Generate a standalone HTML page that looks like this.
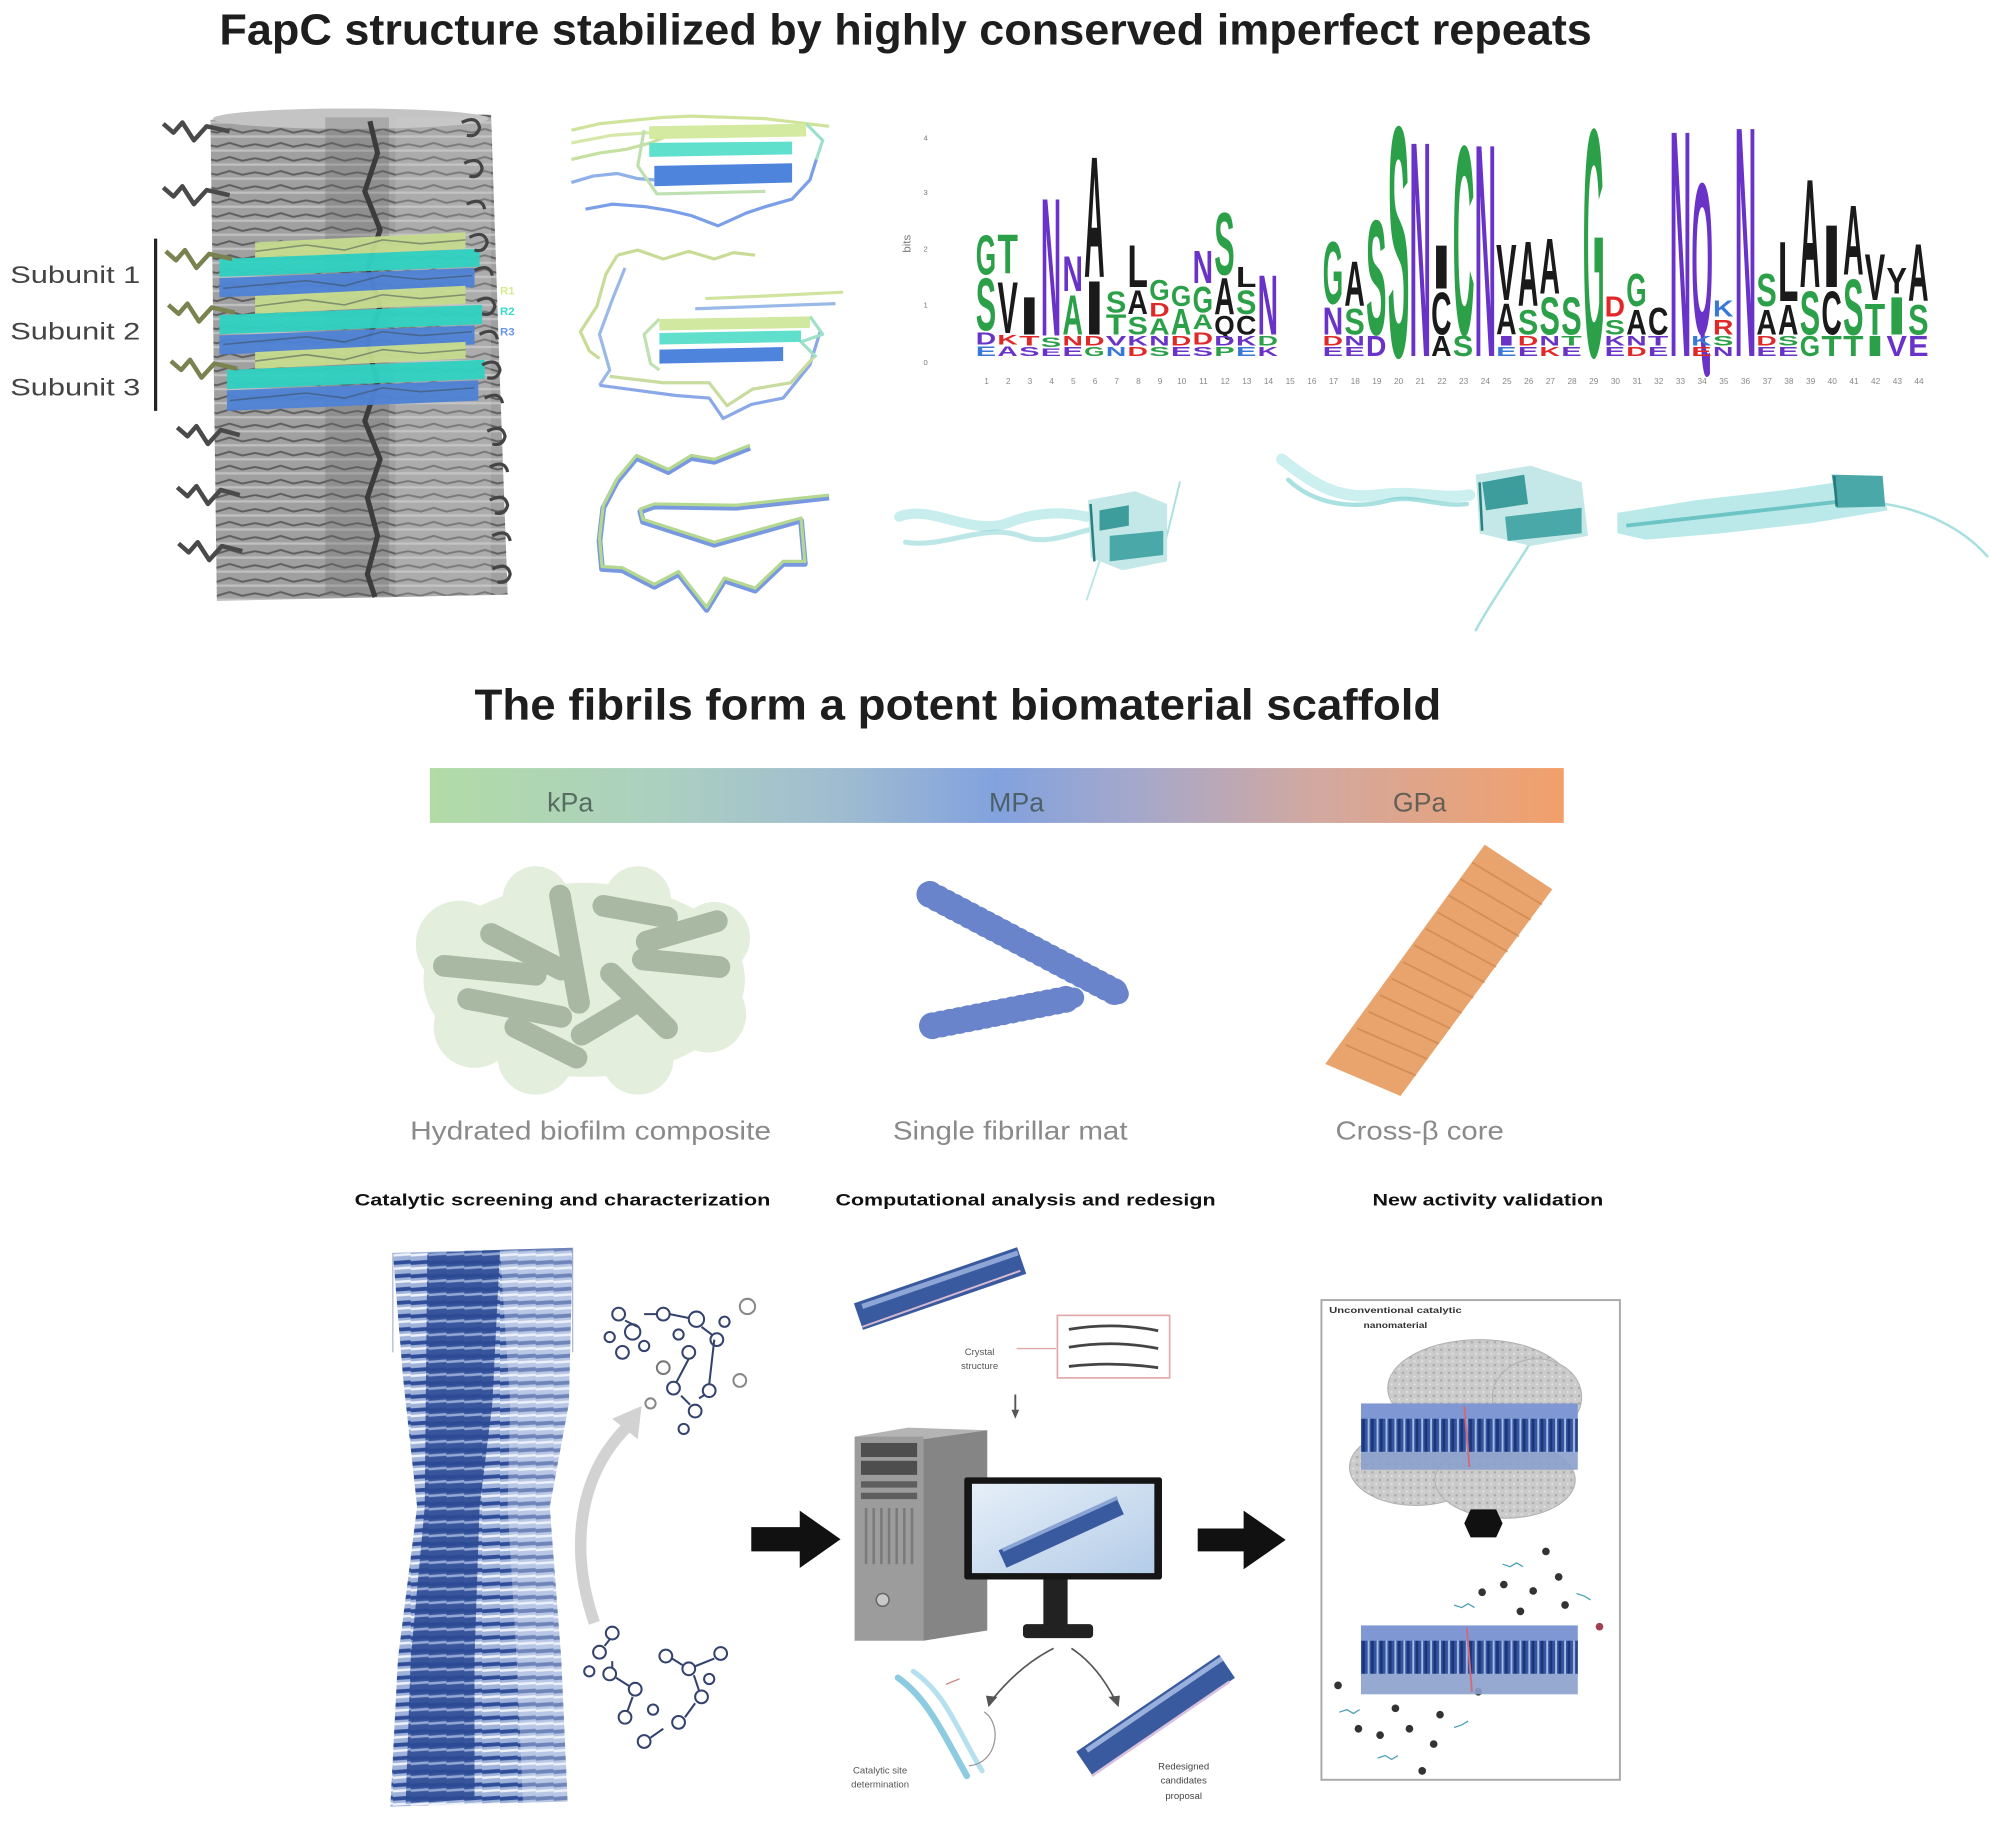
<!DOCTYPE html>
<html><head><meta charset="utf-8">
<style>
html,body{margin:0;padding:0;background:#fff;}
svg{display:block;}
text{font-family:"Liberation Sans",Arial,sans-serif;}
.g{fill:#2ca048}.p{fill:#6a33c8}.k{fill:#1a1a1a}.r{fill:#e02828}.b{fill:#3a78d8}
</style></head><body>
<svg width="2000" height="1827" viewBox="0 0 1568 1432" preserveAspectRatio="none" xmlns="http://www.w3.org/2000/svg">
<defs>
 <pattern id="strands" width="40" height="11" patternUnits="userSpaceOnUse">
   <rect width="40" height="11" fill="#a0a0a0"/>
   <path d="M0 3 L10 5 L20 2 L30 5 L40 3" stroke="#5e5e5e" stroke-width="1.5" fill="none"/>
   <path d="M0 8 L40 8" stroke="#c0c0c0" stroke-width="1.8"/>
 </pattern>
 <pattern id="tw" width="14" height="10.5" patternUnits="userSpaceOnUse">
   <rect width="14" height="10.5" fill="#9fb2da"/>
   <path d="M0 3 L14 2" stroke="#2f4d98" stroke-width="3"/>
   <path d="M0 7.5 L14 6.5" stroke="#eef2fa" stroke-width="2"/>
 </pattern>
 <pattern id="twd" width="14" height="10.5" patternUnits="userSpaceOnUse">
   <rect width="14" height="10.5" fill="#2d4b95"/>
   <path d="M0 7 L14 6" stroke="#8aa0d2" stroke-width="2"/>
 </pattern>
 <pattern id="fibV" width="7" height="50" patternUnits="userSpaceOnUse">
   <rect width="7" height="50" fill="#34559f"/>
   <path d="M2 0 L2 50" stroke="#a8bce4" stroke-width="1.5"/>
   <path d="M5 0 L5 50" stroke="#1c3578" stroke-width="2"/>
 </pattern>
 <pattern id="dots" width="6" height="6" patternUnits="userSpaceOnUse">
   <rect width="6" height="6" fill="#cbcbcb"/>
   <circle cx="2" cy="2" r="1" fill="#aaa"/>
   <circle cx="5" cy="5" r="0.8" fill="#e4e4e4"/>
 </pattern>
 <linearGradient id="bar" x1="0" x2="1" y1="0" y2="0">
   <stop offset="0" stop-color="#b2dba6"/>
   <stop offset="0.2" stop-color="#acd0c0"/>
   <stop offset="0.36" stop-color="#a0bcd0"/>
   <stop offset="0.5" stop-color="#82a2de"/>
   <stop offset="0.62" stop-color="#a4a8cc"/>
   <stop offset="0.78" stop-color="#d2a8a0"/>
   <stop offset="1" stop-color="#f2a06a"/>
 </linearGradient>
 <linearGradient id="screen" x1="0" x2="1" y1="0" y2="1">
   <stop offset="0" stop-color="#e6eff8"/>
   <stop offset="1" stop-color="#b4cce8"/>
 </linearGradient>
</defs>

<!-- ===== Title 1 ===== -->
<text x="172" y="35" font-size="34" font-weight="bold" fill="#1e1e1e" textLength="1076" lengthAdjust="spacingAndGlyphs">FapC structure stabilized by highly conserved imperfect repeats</text>

<!-- ===== Left fibril stack ===== -->
<polygon points="165,94 250,86 385,90 392,300 398,466 170,471" fill="url(#strands)"/>
<ellipse cx="275" cy="93" rx="108" ry="8" fill="#c4c4c4"/>
<rect x="255" y="92" width="50" height="375" fill="#6a6a6a" opacity="0.3"/>
<rect x="310" y="92" width="75" height="375" fill="#d0d0d0" opacity="0.25"/>
<polyline points="290,95 296,120 286,150 298,180 288,210 298,240 288,270 296,300 286,330 298,360 288,390 296,420 288,450 294,468" stroke="#3c3c3c" stroke-width="4" fill="none"/>
<!-- colored bands -->
<g opacity="0.95">
<polygon points="200,190 365,182 365,195 200,203" fill="#c6dc8e"/>
<polygon points="172,203 376,195 376,209 172,217" fill="#2fd2c2"/>
<polygon points="172,218 372,210 372,225 172,233" fill="#4f82d6"/>
<polygon points="200,232 365,224 365,238 200,246" fill="#c6dc8e"/>
<polygon points="172,247 378,239 378,254 172,262" fill="#2fd2c2"/>
<polygon points="172,263 372,255 372,270 172,278" fill="#4f82d6"/>
<polygon points="200,276 365,268 365,281 200,289" fill="#c6dc8e"/>
<polygon points="178,290 380,282 380,297 178,305" fill="#2fd2c2"/>
<polygon points="178,306 375,298 375,314 178,322" fill="#4f82d6"/>
</g>
<g stroke="#3a4a50" stroke-width="1.2" fill="none" opacity="0.5">
<polyline points="200,197 240,192 270,196 300,188 330,191 365,188"/>
<polyline points="200,240 240,235 270,239 300,231 330,234 365,231"/>
<polyline points="200,283 240,278 270,282 300,274 330,277 365,274"/>
<polyline points="175,226 240,220 270,224 300,216 330,219 370,216"/>
<polyline points="175,270 240,264 270,268 300,260 330,263 370,260"/>
<polyline points="180,314 240,308 270,312 300,304 330,307 372,304"/>
</g>
<!-- left tails -->
<g stroke="#4a4a4a" stroke-width="3.5" fill="none" stroke-linejoin="round">
<polyline points="128,97 136,104 143,96 152,110 162,99 180,103"/>
<polyline points="128,147 136,154 143,146 152,160 162,149 180,153"/>
<polyline points="130,197 138,204 145,196 154,210 164,199 182,203" stroke="#7a8250"/>
<polyline points="132,239 140,246 147,238 156,252 166,241 184,245" stroke="#7a8250"/>
<polyline points="134,283 142,290 149,282 158,296 168,285 186,289" stroke="#7a8250"/>
<polyline points="139,335 147,342 154,334 163,348 173,337 188,341"/>
<polyline points="139,382 147,389 154,381 163,395 173,384 188,388"/>
<polyline points="140,426 148,433 155,425 164,439 174,428 190,432"/>
</g>
<!-- right hooks -->
<g stroke="#444" stroke-width="2.5" fill="none">
<path d="M362,96 q12,-6 14,4 q-2,8 -10,6"/>
<path d="M364,128 q12,-6 14,4 q-2,8 -10,6"/>
<path d="M366,160 q12,-6 14,4"/>
<path d="M368,186 q12,-6 14,4 q-2,8 -10,6"/>
<path d="M372,212 q12,-6 14,4"/>
<path d="M374,236 q12,-6 14,4 q-2,8 -10,6"/>
<path d="M376,262 q12,-6 14,4"/>
<path d="M378,286 q12,-6 14,4 q-2,8 -10,6"/>
<path d="M380,312 q12,-6 14,4"/>
<path d="M382,338 q12,-6 14,4 q-2,8 -10,6"/>
<path d="M384,366 q12,-6 14,4"/>
<path d="M384,392 q12,-6 14,4 q-2,8 -10,6"/>
<path d="M386,420 q12,-6 14,4"/>
<path d="M386,446 q12,-6 14,4 q-2,8 -10,6"/>
</g>
<!-- Subunit labels -->
<g font-size="19" fill="#444">
<text x="8" y="222" textLength="102" lengthAdjust="spacingAndGlyphs">Subunit 1</text>
<text x="8" y="266" textLength="102" lengthAdjust="spacingAndGlyphs">Subunit 2</text>
<text x="8" y="310" textLength="102" lengthAdjust="spacingAndGlyphs">Subunit 3</text>
</g>
<line x1="122" y1="187" x2="122" y2="322" stroke="#222" stroke-width="2.5"/>
<g font-size="9" font-weight="bold">
<text x="392" y="231" fill="#d6ea90">R1</text>
<text x="392" y="247" fill="#3cdccc">R2</text>
<text x="392" y="263" fill="#6a96ea">R3</text>
</g>

<!-- ===== Middle structures ===== -->
<!-- A -->
<g fill="none" stroke-width="2.5" stroke-linejoin="round">
<polyline points="448,102 470,97 499,94 520,92 542,91 600,93 650,99" stroke="#cfe49a"/>
<polyline points="448,112 480,106 510,104" stroke="#d6e8a8"/>
<polyline points="448,125 470,120 491,117 510,112 520,108" stroke="#c6e0a0"/>
<polyline points="448,143 465,138 484,136 500,140 513,141" stroke="#8fb0e8"/>
<polyline points="459,164 480,160 506,162 525,165 542,169 563,177 585,167 600,162 621,156 635,141 640,125" stroke="#7a9fe8"/>
<polyline points="632,97 645,110 640,125" stroke="#9ee0c8"/>
<polyline points="505,102 500,130 515,152 600,150" stroke="#bfe0b0"/>
</g>
<polygon points="509,99 632,97 632,107 509,109" fill="#d4eaa0"/>
<polygon points="509,112 621,111 621,121 509,123" fill="#5ee0cc"/>
<polygon points="513,130 621,128 621,143 513,146" fill="#4e84dc"/>
<!-- B -->
<g fill="none" stroke-width="2.5" stroke-linejoin="round">
<polyline points="484,200 500,196 520,203 540,197 560,203 575,198 592,200" stroke="#c8dc98"/>
<polyline points="484,200 475,215 468,240 455,260 462,275 470,281" stroke="#c8dc98"/>
<polyline points="490,210 480,235 470,262 478,290 470,302" stroke="#9ab8e8"/>
<polyline points="470,302 500,306 530,310 556,312 567,328 589,317 614,312 635,286 643,260" stroke="#8aa8e8"/>
<polyline points="478,295 520,300 556,300 570,318 590,305 620,300 638,280" stroke="#c8dca0"/>
<polyline points="553,234 600,232 661,229" stroke="#d0e4a0"/>
<polyline points="545,242 600,240 655,238" stroke="#9ab8e8"/>
<polyline points="517,250 505,262 510,285 517,290" stroke="#bfe0b0"/>
<polyline points="635,248 645,262 628,268 640,280" stroke="#9ee0c8"/>
</g>
<polygon points="517,250 635,248 635,257 517,259" fill="#d0e8a0"/>
<polygon points="517,261 628,259 628,268 517,270" fill="#60e0cc"/>
<polygon points="517,274 614,272 614,283 517,285" fill="#4e84dc"/>
<!-- C -->
<polyline points="588,351 560,362 542,359 524,370 499,359 484,377 473,398 470,424 472,446 488,447 513,460 532,450 554,478 568,455 592,463 614,442 631,442 628,408 560,427 504,409 502,401 513,397 577,398 650,390" fill="none" stroke="#7898e0" stroke-width="4.5" stroke-linejoin="round"/>
<polyline points="588,349 560,360 542,357 524,368 499,357 484,375 473,396 470,422 472,444 488,445 513,458 532,448 554,476 568,453 592,461 614,440 631,440 628,406 560,425 504,407 502,399 513,395 577,396 650,388" fill="none" stroke="#b4d890" stroke-width="2.5" stroke-linejoin="round"/>

<!-- ===== Sequence logo ===== -->
<g font-size="6" fill="#777">
<text x="724" y="110">4</text><text x="724" y="153">3</text><text x="724" y="197">2</text><text x="724" y="241">1</text><text x="724" y="286">0</text>
</g>
<text x="0" y="0" font-size="9" fill="#777" transform="translate(714,198) rotate(-90)">bits</text>
<g font-weight="bold">
<!-- col1 -->
<text x="765" y="215" font-size="44.7" class="g" textLength="16" lengthAdjust="spacingAndGlyphs">G</text>
<text x="765" y="259" font-size="58.7" class="g" textLength="16" lengthAdjust="spacingAndGlyphs">S</text>
<text x="765" y="270" font-size="14" class="p" textLength="16" lengthAdjust="spacingAndGlyphs">D</text>
<text x="765" y="279" font-size="11.2" class="b" textLength="16" lengthAdjust="spacingAndGlyphs">E</text>
<!-- col2 -->
<text x="782" y="214" font-size="43.3" class="g" textLength="16" lengthAdjust="spacingAndGlyphs">T</text>
<text x="782" y="261" font-size="57.3" class="k" textLength="16" lengthAdjust="spacingAndGlyphs">V</text>
<text x="782" y="270" font-size="11.2" class="r" textLength="16" lengthAdjust="spacingAndGlyphs">K</text>
<text x="782" y="279" font-size="11.2" class="p" textLength="16" lengthAdjust="spacingAndGlyphs">A</text>
<!-- col3 -->
<text x="799" y="262" font-size="41.9" class="k" textLength="16" lengthAdjust="spacingAndGlyphs">I</text>
<text x="799" y="271" font-size="11.2" class="r" textLength="16" lengthAdjust="spacingAndGlyphs">T</text>
<text x="799" y="279" font-size="9.8" class="p" textLength="16" lengthAdjust="spacingAndGlyphs">S</text>
<!-- col4 -->
<text x="816" y="263" font-size="155" class="p" textLength="16" lengthAdjust="spacingAndGlyphs">N</text>
<text x="816" y="272" font-size="11.2" class="g" textLength="16" lengthAdjust="spacingAndGlyphs">S</text>
<text x="816" y="279" font-size="8.4" class="p" textLength="16" lengthAdjust="spacingAndGlyphs">E</text>
<!-- col5 -->
<text x="833" y="228" font-size="39.1" class="p" textLength="16" lengthAdjust="spacingAndGlyphs">N</text>
<text x="833" y="262" font-size="44.7" class="g" textLength="16" lengthAdjust="spacingAndGlyphs">A</text>
<text x="833" y="271" font-size="11.2" class="r" textLength="16" lengthAdjust="spacingAndGlyphs">N</text>
<text x="833" y="279" font-size="9.8" class="p" textLength="16" lengthAdjust="spacingAndGlyphs">E</text>
<!-- col6 -->
<text x="850" y="217" font-size="135.5" class="k" textLength="16" lengthAdjust="spacingAndGlyphs">A</text>
<text x="850" y="262" font-size="60" class="k" textLength="16" lengthAdjust="spacingAndGlyphs">I</text>
<text x="850" y="271" font-size="11.2" class="r" textLength="16" lengthAdjust="spacingAndGlyphs">D</text>
<text x="850" y="279" font-size="9.8" class="g" textLength="16" lengthAdjust="spacingAndGlyphs">G</text>
<!-- col7 -->
<text x="867" y="245" font-size="23.7" class="g" textLength="16" lengthAdjust="spacingAndGlyphs">S</text>
<text x="867" y="262" font-size="22.3" class="g" textLength="16" lengthAdjust="spacingAndGlyphs">T</text>
<text x="867" y="271" font-size="11.2" class="p" textLength="16" lengthAdjust="spacingAndGlyphs">V</text>
<text x="867" y="279" font-size="9.8" class="b" textLength="16" lengthAdjust="spacingAndGlyphs">N</text>
<!-- col8 -->
<text x="884" y="225" font-size="47.5" class="k" textLength="16" lengthAdjust="spacingAndGlyphs">L</text>
<text x="884" y="246" font-size="26.5" class="k" textLength="16" lengthAdjust="spacingAndGlyphs">A</text>
<text x="884" y="262" font-size="19.6" class="g" textLength="16" lengthAdjust="spacingAndGlyphs">S</text>
<text x="884" y="271" font-size="11.2" class="p" textLength="16" lengthAdjust="spacingAndGlyphs">K</text>
<text x="884" y="279" font-size="9.8" class="r" textLength="16" lengthAdjust="spacingAndGlyphs">D</text>
<!-- col9 -->
<text x="901" y="235" font-size="22.3" class="g" textLength="16" lengthAdjust="spacingAndGlyphs">G</text>
<text x="901" y="248" font-size="15.4" class="r" textLength="16" lengthAdjust="spacingAndGlyphs">D</text>
<text x="901" y="262" font-size="18.2" class="g" textLength="16" lengthAdjust="spacingAndGlyphs">A</text>
<text x="901" y="271" font-size="11.2" class="p" textLength="16" lengthAdjust="spacingAndGlyphs">N</text>
<text x="901" y="279" font-size="9.8" class="g" textLength="16" lengthAdjust="spacingAndGlyphs">S</text>
<!-- col10 -->
<text x="918" y="240" font-size="22.3" class="g" textLength="16" lengthAdjust="spacingAndGlyphs">G</text>
<text x="918" y="262" font-size="29.3" class="g" textLength="16" lengthAdjust="spacingAndGlyphs">A</text>
<text x="918" y="271" font-size="11.2" class="r" textLength="16" lengthAdjust="spacingAndGlyphs">D</text>
<text x="918" y="279" font-size="9.8" class="p" textLength="16" lengthAdjust="spacingAndGlyphs">E</text>
<!-- col11 -->
<text x="935" y="222" font-size="36.3" class="p" textLength="16" lengthAdjust="spacingAndGlyphs">N</text>
<text x="935" y="245" font-size="29.3" class="g" textLength="16" lengthAdjust="spacingAndGlyphs">G</text>
<text x="935" y="258" font-size="16.8" class="g" textLength="16" lengthAdjust="spacingAndGlyphs">A</text>
<text x="935" y="270" font-size="14" class="r" textLength="16" lengthAdjust="spacingAndGlyphs">D</text>
<text x="935" y="279" font-size="9.8" class="p" textLength="16" lengthAdjust="spacingAndGlyphs">S</text>
<!-- col12 -->
<text x="952" y="215" font-size="69.8" class="g" textLength="16" lengthAdjust="spacingAndGlyphs">S</text>
<text x="952" y="246" font-size="40.5" class="k" textLength="16" lengthAdjust="spacingAndGlyphs">A</text>
<text x="952" y="262" font-size="21" class="k" textLength="16" lengthAdjust="spacingAndGlyphs">Q</text>
<text x="952" y="271" font-size="11.2" class="p" textLength="16" lengthAdjust="spacingAndGlyphs">D</text>
<text x="952" y="279" font-size="9.8" class="g" textLength="16" lengthAdjust="spacingAndGlyphs">P</text>
<!-- col13 -->
<text x="969" y="225" font-size="22.3" class="k" textLength="16" lengthAdjust="spacingAndGlyphs">L</text>
<text x="969" y="246" font-size="26.5" class="g" textLength="16" lengthAdjust="spacingAndGlyphs">S</text>
<text x="969" y="262" font-size="21" class="k" textLength="16" lengthAdjust="spacingAndGlyphs">C</text>
<text x="969" y="271" font-size="11.2" class="p" textLength="16" lengthAdjust="spacingAndGlyphs">K</text>
<text x="969" y="279" font-size="9.8" class="b" textLength="16" lengthAdjust="spacingAndGlyphs">E</text>
<!-- col14 -->
<text x="986" y="262" font-size="67" class="p" textLength="16" lengthAdjust="spacingAndGlyphs">N</text>
<text x="986" y="271" font-size="11.2" class="g" textLength="16" lengthAdjust="spacingAndGlyphs">D</text>
<text x="986" y="279" font-size="9.8" class="p" textLength="16" lengthAdjust="spacingAndGlyphs">K</text>
<!-- col17 -->
<text x="1037" y="238" font-size="69.8" class="g" textLength="16" lengthAdjust="spacingAndGlyphs">G</text>
<text x="1037" y="262" font-size="30.7" class="p" textLength="16" lengthAdjust="spacingAndGlyphs">N</text>
<text x="1037" y="271" font-size="11.2" class="r" textLength="16" lengthAdjust="spacingAndGlyphs">D</text>
<text x="1037" y="279" font-size="9.8" class="p" textLength="16" lengthAdjust="spacingAndGlyphs">E</text>
<!-- col18 -->
<text x="1054" y="240" font-size="50.3" class="k" textLength="16" lengthAdjust="spacingAndGlyphs">A</text>
<text x="1054" y="262" font-size="29.3" class="g" textLength="16" lengthAdjust="spacingAndGlyphs">S</text>
<text x="1054" y="271" font-size="11.2" class="p" textLength="16" lengthAdjust="spacingAndGlyphs">N</text>
<text x="1054" y="279" font-size="9.8" class="p" textLength="16" lengthAdjust="spacingAndGlyphs">E</text>
<!-- col19 -->
<text x="1071" y="262" font-size="128.5" class="g" textLength="16" lengthAdjust="spacingAndGlyphs">S</text>
<text x="1071" y="279" font-size="22.3" class="p" textLength="16" lengthAdjust="spacingAndGlyphs">D</text>
<!-- col20 -->
<text x="1088" y="279" font-size="258.4" class="g" textLength="17" lengthAdjust="spacingAndGlyphs">S</text>
<!-- col21 -->
<text x="1105" y="279" font-size="241.6" class="p" textLength="17" lengthAdjust="spacingAndGlyphs">N</text>
<!-- col22 -->
<text x="1122" y="226" font-size="48.9" class="k" textLength="16" lengthAdjust="spacingAndGlyphs">I</text>
<text x="1122" y="262" font-size="47.5" class="k" textLength="16" lengthAdjust="spacingAndGlyphs">C</text>
<text x="1122" y="279" font-size="22.3" class="k" textLength="16" lengthAdjust="spacingAndGlyphs">A</text>
<!-- col23 -->
<text x="1139" y="262" font-size="212.3" class="g" textLength="17" lengthAdjust="spacingAndGlyphs">C</text>
<text x="1139" y="279" font-size="22.3" class="g" textLength="16" lengthAdjust="spacingAndGlyphs">S</text>
<!-- col24 -->
<text x="1156" y="279" font-size="238.8" class="p" textLength="17" lengthAdjust="spacingAndGlyphs">N</text>
<!-- col25 -->
<text x="1173" y="235" font-size="62.8" class="k" textLength="16" lengthAdjust="spacingAndGlyphs">V</text>
<text x="1173" y="262" font-size="34.9" class="k" textLength="16" lengthAdjust="spacingAndGlyphs">A</text>
<text x="1173" y="271" font-size="11.2" class="p" textLength="16" lengthAdjust="spacingAndGlyphs">I</text>
<text x="1173" y="279" font-size="9.8" class="b" textLength="16" lengthAdjust="spacingAndGlyphs">E</text>
<!-- col26 -->
<text x="1190" y="240" font-size="72.6" class="k" textLength="16" lengthAdjust="spacingAndGlyphs">A</text>
<text x="1190" y="262" font-size="27.9" class="g" textLength="16" lengthAdjust="spacingAndGlyphs">S</text>
<text x="1190" y="271" font-size="11.2" class="r" textLength="16" lengthAdjust="spacingAndGlyphs">D</text>
<text x="1190" y="279" font-size="9.8" class="p" textLength="16" lengthAdjust="spacingAndGlyphs">E</text>
<!-- col27 -->
<text x="1207" y="230" font-size="61.5" class="k" textLength="16" lengthAdjust="spacingAndGlyphs">A</text>
<text x="1207" y="262" font-size="41.9" class="g" textLength="16" lengthAdjust="spacingAndGlyphs">S</text>
<text x="1207" y="271" font-size="11.2" class="p" textLength="16" lengthAdjust="spacingAndGlyphs">N</text>
<text x="1207" y="279" font-size="9.8" class="r" textLength="16" lengthAdjust="spacingAndGlyphs">K</text>
<!-- col28 -->
<text x="1224" y="262" font-size="41.9" class="g" textLength="16" lengthAdjust="spacingAndGlyphs">S</text>
<text x="1224" y="271" font-size="11.2" class="g" textLength="16" lengthAdjust="spacingAndGlyphs">T</text>
<text x="1224" y="279" font-size="9.8" class="p" textLength="16" lengthAdjust="spacingAndGlyphs">E</text>
<!-- col29 -->
<text x="1241" y="279" font-size="255.6" class="g" textLength="17" lengthAdjust="spacingAndGlyphs">G</text>
<!-- col30 -->
<text x="1258" y="248" font-size="22.3" class="r" textLength="16" lengthAdjust="spacingAndGlyphs">D</text>
<text x="1258" y="262" font-size="16.8" class="g" textLength="16" lengthAdjust="spacingAndGlyphs">S</text>
<text x="1258" y="271" font-size="11.2" class="p" textLength="16" lengthAdjust="spacingAndGlyphs">K</text>
<text x="1258" y="279" font-size="9.8" class="p" textLength="16" lengthAdjust="spacingAndGlyphs">E</text>
<!-- col31 -->
<text x="1275" y="240" font-size="36.3" class="g" textLength="16" lengthAdjust="spacingAndGlyphs">G</text>
<text x="1275" y="262" font-size="27.9" class="k" textLength="16" lengthAdjust="spacingAndGlyphs">A</text>
<text x="1275" y="271" font-size="11.2" class="p" textLength="16" lengthAdjust="spacingAndGlyphs">N</text>
<text x="1275" y="279" font-size="9.8" class="r" textLength="16" lengthAdjust="spacingAndGlyphs">D</text>
<!-- col32 -->
<text x="1292" y="262" font-size="30.7" class="k" textLength="16" lengthAdjust="spacingAndGlyphs">C</text>
<text x="1292" y="271" font-size="11.2" class="p" textLength="16" lengthAdjust="spacingAndGlyphs">T</text>
<text x="1292" y="279" font-size="9.8" class="p" textLength="16" lengthAdjust="spacingAndGlyphs">E</text>
<!-- col33 -->
<text x="1309" y="279" font-size="254.2" class="p" textLength="17" lengthAdjust="spacingAndGlyphs">N</text>
<!-- col34 -->
<text x="1326" y="262" font-size="170.4" class="p" textLength="17" lengthAdjust="spacingAndGlyphs">Q</text>
<text x="1326" y="271" font-size="11.2" class="b" textLength="16" lengthAdjust="spacingAndGlyphs">K</text>
<text x="1326" y="279" font-size="9.8" class="r" textLength="16" lengthAdjust="spacingAndGlyphs">E</text>
<!-- col35 -->
<text x="1343" y="248" font-size="18.2" class="b" textLength="16" lengthAdjust="spacingAndGlyphs">K</text>
<text x="1343" y="262" font-size="16.8" class="r" textLength="16" lengthAdjust="spacingAndGlyphs">R</text>
<text x="1343" y="271" font-size="11.2" class="g" textLength="16" lengthAdjust="spacingAndGlyphs">S</text>
<text x="1343" y="279" font-size="9.8" class="p" textLength="16" lengthAdjust="spacingAndGlyphs">N</text>
<!-- col36 -->
<text x="1360" y="279" font-size="258.4" class="p" textLength="17" lengthAdjust="spacingAndGlyphs">N</text>
<!-- col37 -->
<text x="1377" y="240" font-size="36.3" class="g" textLength="16" lengthAdjust="spacingAndGlyphs">S</text>
<text x="1377" y="262" font-size="27.9" class="k" textLength="16" lengthAdjust="spacingAndGlyphs">A</text>
<text x="1377" y="271" font-size="11.2" class="r" textLength="16" lengthAdjust="spacingAndGlyphs">D</text>
<text x="1377" y="279" font-size="9.8" class="p" textLength="16" lengthAdjust="spacingAndGlyphs">E</text>
<!-- col38 -->
<text x="1394" y="236" font-size="67" class="k" textLength="16" lengthAdjust="spacingAndGlyphs">L</text>
<text x="1394" y="262" font-size="33.5" class="k" textLength="16" lengthAdjust="spacingAndGlyphs">A</text>
<text x="1394" y="271" font-size="11.2" class="g" textLength="16" lengthAdjust="spacingAndGlyphs">S</text>
<text x="1394" y="279" font-size="9.8" class="p" textLength="16" lengthAdjust="spacingAndGlyphs">E</text>
<!-- col39 -->
<text x="1411" y="225" font-size="121.5" class="k" textLength="16" lengthAdjust="spacingAndGlyphs">A</text>
<text x="1411" y="262" font-size="48.9" class="g" textLength="16" lengthAdjust="spacingAndGlyphs">S</text>
<text x="1411" y="279" font-size="22.3" class="g" textLength="16" lengthAdjust="spacingAndGlyphs">G</text>
<!-- col40 -->
<text x="1428" y="225" font-size="69.8" class="k" textLength="16" lengthAdjust="spacingAndGlyphs">I</text>
<text x="1428" y="262" font-size="48.9" class="k" textLength="16" lengthAdjust="spacingAndGlyphs">C</text>
<text x="1428" y="279" font-size="22.3" class="g" textLength="16" lengthAdjust="spacingAndGlyphs">T</text>
<!-- col41 -->
<text x="1445" y="215" font-size="78.2" class="k" textLength="16" lengthAdjust="spacingAndGlyphs">A</text>
<text x="1445" y="262" font-size="62.8" class="g" textLength="16" lengthAdjust="spacingAndGlyphs">S</text>
<text x="1445" y="279" font-size="22.3" class="g" textLength="16" lengthAdjust="spacingAndGlyphs">T</text>
<!-- col42 -->
<text x="1462" y="235" font-size="51.7" class="k" textLength="16" lengthAdjust="spacingAndGlyphs">V</text>
<text x="1462" y="262" font-size="34.9" class="g" textLength="16" lengthAdjust="spacingAndGlyphs">T</text>
<text x="1462" y="279" font-size="22.3" class="g" textLength="16" lengthAdjust="spacingAndGlyphs">I</text>
<!-- col43 -->
<text x="1479" y="230" font-size="29.3" class="k" textLength="16" lengthAdjust="spacingAndGlyphs">Y</text>
<text x="1479" y="262" font-size="41.9" class="g" textLength="16" lengthAdjust="spacingAndGlyphs">I</text>
<text x="1479" y="279" font-size="22.3" class="p" textLength="16" lengthAdjust="spacingAndGlyphs">V</text>
<!-- col44 -->
<text x="1496" y="236" font-size="64.2" class="k" textLength="16" lengthAdjust="spacingAndGlyphs">A</text>
<text x="1496" y="262" font-size="33.5" class="g" textLength="16" lengthAdjust="spacingAndGlyphs">S</text>
<text x="1496" y="279" font-size="22.3" class="p" textLength="16" lengthAdjust="spacingAndGlyphs">E</text>
</g>
<!-- position numbers -->
<g font-size="6.5" fill="#888" text-anchor="middle">
<text x="773.5" y="301">1</text><text x="790.5" y="301">2</text><text x="807.5" y="301">3</text><text x="824.5" y="301">4</text><text x="841.5" y="301">5</text><text x="858.5" y="301">6</text><text x="875.5" y="301">7</text><text x="892.5" y="301">8</text><text x="909.5" y="301">9</text><text x="926.5" y="301">10</text><text x="943.5" y="301">11</text><text x="960.5" y="301">12</text><text x="977.5" y="301">13</text><text x="994.5" y="301">14</text><text x="1011.5" y="301">15</text><text x="1028.5" y="301">16</text><text x="1045.5" y="301">17</text><text x="1062.5" y="301">18</text><text x="1079.5" y="301">19</text><text x="1096.5" y="301">20</text><text x="1113.5" y="301">21</text><text x="1130.5" y="301">22</text><text x="1147.5" y="301">23</text><text x="1164.5" y="301">24</text><text x="1181.5" y="301">25</text><text x="1198.5" y="301">26</text><text x="1215.5" y="301">27</text><text x="1232.5" y="301">28</text><text x="1249.5" y="301">29</text><text x="1266.5" y="301">30</text><text x="1283.5" y="301">31</text><text x="1300.5" y="301">32</text><text x="1317.5" y="301">33</text><text x="1334.5" y="301">34</text><text x="1351.5" y="301">35</text><text x="1368.5" y="301">36</text><text x="1385.5" y="301">37</text><text x="1402.5" y="301">38</text><text x="1419.5" y="301">39</text><text x="1436.5" y="301">40</text><text x="1453.5" y="301">41</text><text x="1470.5" y="301">42</text><text x="1487.5" y="301">43</text><text x="1504.5" y="301">44</text>
</g>

<!-- ===== Teal ribbon structures ===== -->
<g fill="none" stroke-linecap="round">
<path d="M705,405 C730,395 760,420 790,410 C810,402 830,400 852,405" stroke="#8fdcdc" stroke-width="8" opacity="0.5"/>
<path d="M710,425 C740,430 770,410 800,420 C820,428 840,418 855,415" stroke="#6ccaca" stroke-width="4" opacity="0.45"/>
<path d="M925,378 L910,440" stroke="#a8e0e0" stroke-width="1.5"/>
<path d="M862,440 L852,470" stroke="#b8e6e6" stroke-width="1.5"/>
<path d="M1005,360 C1030,380 1050,392 1080,388 C1110,384 1130,392 1152,388" stroke="#8fdcdc" stroke-width="9" opacity="0.45"/>
<path d="M1010,376 C1030,395 1060,400 1090,392 C1110,388 1130,398 1150,395" stroke="#6fcccc" stroke-width="3.5" opacity="0.6"/>
<path d="M1200,425 C1185,450 1170,470 1157,494" stroke="#a8e0e0" stroke-width="2"/>
<path d="M1478,395 C1510,400 1540,415 1558,436" stroke="#a8e0e0" stroke-width="2"/>
</g>
<polygon points="853,392 890,385 915,395 915,440 880,447 855,437" fill="#c4e8e8"/>
<polygon points="862,400 885,396 885,412 862,416" fill="#3d9d9d"/>
<polygon points="870,420 912,416 912,435 870,440" fill="#4aa8a8"/>
<line x1="855" y1="395" x2="858" y2="440" stroke="#2a8080" stroke-width="2"/>
<polygon points="1157,372 1200,365 1240,378 1245,420 1200,428 1160,418" fill="#c4e8e8"/>
<polygon points="1162,378 1195,372 1198,395 1165,400" fill="#3d9d9d"/>
<polygon points="1180,405 1240,398 1240,418 1182,424" fill="#4aa8a8"/>
<line x1="1160" y1="378" x2="1162" y2="416" stroke="#2a8080" stroke-width="2"/>
<polygon points="1268,402 1330,392 1400,384 1440,378 1475,385 1480,400 1420,410 1350,418 1290,423 1268,418" fill="#a4e2e2" opacity="0.75"/>
<path d="M1275,412 L1470,390" stroke="#6cc4c4" stroke-width="3"/>
<polygon points="1436,372 1476,373 1478,397 1440,398" fill="#4aa8a8"/>
<line x1="1438" y1="373" x2="1440" y2="397" stroke="#2a7878" stroke-width="2"/>

<!-- ===== Title 2 ===== -->
<text x="372" y="564" font-size="34" font-weight="bold" fill="#1e1e1e" textLength="758" lengthAdjust="spacingAndGlyphs">The fibrils form a potent biomaterial scaffold</text>

<!-- gradient bar -->
<rect x="337" y="602" width="889" height="43" fill="url(#bar)"/>
<g font-size="21" fill="#3a4a44" opacity="0.75" text-anchor="middle">
<text x="447" y="636">kPa</text>
<text x="797" y="636">MPa</text>
<text x="1113" y="636">GPa</text>
</g>

<!-- biofilm -->
<g fill="#e3eedd">
<ellipse cx="458" cy="768" rx="126" ry="76"/>
<circle cx="360" cy="740" r="34"/><circle cx="372" cy="805" r="32"/><circle cx="420" cy="828" r="30"/>
<circle cx="500" cy="830" r="28"/><circle cx="555" cy="795" r="30"/><circle cx="560" cy="735" r="28"/>
<circle cx="500" cy="705" r="26"/><circle cx="420" cy="705" r="26"/>
</g>
<g stroke="#a8b8a2" stroke-width="17" stroke-linecap="round">
<line x1="473" y1="710" x2="523" y2="719"/>
<line x1="507" y1="738" x2="562" y2="722"/>
<line x1="439" y1="702" x2="454" y2="786"/>
<line x1="385" y1="732" x2="440" y2="760"/>
<line x1="348" y1="757" x2="420" y2="764"/>
<line x1="504" y1="752" x2="564" y2="758"/>
<line x1="367" y1="783" x2="440" y2="797"/>
<line x1="479" y1="763" x2="523" y2="806"/>
<line x1="404" y1="805" x2="452" y2="829"/>
<line x1="456" y1="811" x2="498" y2="786"/>
</g>

<!-- fibrillar mat -->
<g stroke="#6a84cc" stroke-linecap="round">
<line x1="729" y1="701" x2="877" y2="779" stroke-width="16"/>
<line x1="731" y1="804" x2="842" y2="782" stroke-width="16"/>
<line x1="729" y1="701" x2="877" y2="779" stroke-width="21" stroke-dasharray="0.1 7"/>
<line x1="731" y1="804" x2="842" y2="782" stroke-width="21" stroke-dasharray="0.1 7"/>
</g>

<!-- cross-beta core -->
<polygon points="1164,662 1217,697 1098,859 1039,834" fill="#e8a46c"/>
<g stroke="#c98048" stroke-width="1.5" opacity="0.6">
<line x1="1154" y1="676" x2="1209" y2="709"/><line x1="1145" y1="689" x2="1200" y2="721"/>
<line x1="1136" y1="702" x2="1191" y2="734"/><line x1="1127" y1="715" x2="1182" y2="746"/>
<line x1="1118" y1="728" x2="1173" y2="758"/><line x1="1109" y1="741" x2="1164" y2="770"/>
<line x1="1100" y1="754" x2="1155" y2="782"/><line x1="1091" y1="767" x2="1146" y2="794"/>
<line x1="1082" y1="780" x2="1137" y2="806"/><line x1="1073" y1="793" x2="1128" y2="818"/>
<line x1="1064" y1="806" x2="1119" y2="830"/><line x1="1055" y1="819" x2="1110" y2="843"/>
</g>

<!-- captions -->
<g font-size="20" fill="#8a8a8a" text-anchor="middle">
<text x="463" y="893" textLength="283" lengthAdjust="spacingAndGlyphs">Hydrated biofilm composite</text>
<text x="792" y="893" textLength="184" lengthAdjust="spacingAndGlyphs">Single fibrillar mat</text>
<text x="1113" y="893" textLength="132" lengthAdjust="spacingAndGlyphs">Cross-β core</text>
</g>

<!-- ===== Section 3 headings ===== -->
<g font-size="13" font-weight="bold" fill="#111">
<text x="278" y="945" textLength="326" lengthAdjust="spacingAndGlyphs">Catalytic screening and characterization</text>
<text x="655" y="945" textLength="298" lengthAdjust="spacingAndGlyphs">Computational analysis and redesign</text>
<text x="1076" y="945" textLength="181" lengthAdjust="spacingAndGlyphs">New activity validation</text>
</g>

<!-- tower fibril -->
<polygon points="308,982 449,978 446,1100 431,1181 440,1300 445,1412 306,1416 312,1300 327,1181 316,1080" fill="url(#tw)"/>
<polygon points="335,982 392,980 386,1100 376,1181 372,1300 372,1410 318,1414 322,1300 333,1181 334,1080" fill="url(#twd)" opacity="0.9"/>
<polygon points="392,980 449,978 446,1100 431,1181 440,1300 445,1412 410,1413 405,1300 398,1181 400,1100" fill="#e8eef8" opacity="0.35"/>
<g stroke="#9aa8c8" stroke-width="0.8">
<line x1="308" y1="982" x2="308" y2="1060"/><line x1="449" y1="978" x2="449" y2="1060"/>
</g>

<!-- molecules -->
<g fill="none" stroke="#34426e" stroke-width="1.6">
<circle cx="485" cy="1030" r="5"/><circle cx="496" cy="1044" r="6"/><circle cx="488" cy="1060" r="5"/>
<circle cx="520" cy="1030" r="5"/><circle cx="546" cy="1034" r="6"/><circle cx="562" cy="1050" r="5"/>
<circle cx="586" cy="1024" r="6" stroke="#888"/><circle cx="580" cy="1082" r="5" stroke="#888"/>
<circle cx="528" cy="1088" r="5"/><circle cx="545" cy="1106" r="5"/><circle cx="520" cy="1072" r="5" stroke="#777"/>
<circle cx="556" cy="1090" r="5"/><circle cx="540" cy="1060" r="5"/>
<circle cx="478" cy="1048" r="4"/><circle cx="505" cy="1055" r="4"/><circle cx="532" cy="1046" r="4"/>
<circle cx="568" cy="1036" r="4"/><circle cx="536" cy="1120" r="4"/><circle cx="510" cy="1100" r="4" stroke="#888"/>
<path d="M490,1035 L500,1040 M505,1030 L515,1030 M525,1030 L540,1033 M550,1040 L558,1046 M534,1094 L541,1101 M548,1096 L553,1093 M540,1065 L530,1084 M560,1050 L556,1085"/>
<circle cx="470" cy="1295" r="5"/><circle cx="480" cy="1280" r="5"/><circle cx="478" cy="1312" r="5"/>
<circle cx="498" cy="1324" r="5"/><circle cx="490" cy="1346" r="5"/><circle cx="522" cy="1298" r="5"/>
<circle cx="540" cy="1308" r="5"/><circle cx="550" cy="1330" r="5"/><circle cx="532" cy="1350" r="5"/>
<circle cx="505" cy="1365" r="5"/><circle cx="565" cy="1296" r="5"/>
<circle cx="462" cy="1310" r="4"/><circle cx="512" cy="1340" r="4"/><circle cx="556" cy="1316" r="4"/>
<path d="M474,1290 L478,1285 M480,1302 L480,1307 M483,1315 L494,1322 M496,1330 L492,1341 M527,1300 L535,1305 M544,1313 L548,1325 M545,1335 L537,1346 M520,1355 L510,1362 M560,1300 L545,1306"/>
</g>
<!-- gray curved arrow -->
<path d="M466,1272 C448,1220 450,1160 492,1118" stroke="#d2d2d2" stroke-width="9" fill="none"/>
<polygon points="480,1112 503,1102 500,1128" fill="#d2d2d2"/>

<!-- black arrows -->
<polygon points="589,1197 627,1197 627,1184 659,1206.5 627,1229 627,1216 589,1216" fill="#111"/>
<polygon points="939,1198 975,1198 975,1184 1008,1207 975,1230 975,1216 939,1216" fill="#111"/>

<!-- top fibril & crystal structure -->
<line x1="673" y1="1032" x2="801" y2="988" stroke="#3a5aa0" stroke-width="22"/>
<line x1="676" y1="1024" x2="798" y2="982" stroke="#8ea6d6" stroke-width="4"/>
<line x1="676" y1="1040" x2="800" y2="996" stroke="#d8b8d0" stroke-width="1.5"/>
<rect x="829" y="1031" width="88" height="49" fill="none" stroke="#e0a8a8" stroke-width="1.3"/>
<g stroke="#444" stroke-width="2.2" fill="none">
<path d="M838,1042 Q873,1036 908,1043"/><path d="M838,1056 Q873,1050 908,1057"/><path d="M838,1071 Q873,1067 908,1072"/>
</g>
<line x1="797" y1="1057" x2="828" y2="1057" stroke="#e0a8a8" stroke-width="1"/>
<g font-size="7.5" fill="#555" text-anchor="middle">
<text x="768" y="1062">Crystal</text><text x="768" y="1073">structure</text>
</g>
<line x1="796" y1="1093" x2="796" y2="1106" stroke="#555" stroke-width="1.5"/>
<polygon points="793,1105 799,1105 796,1112" fill="#555"/>

<!-- computer tower -->
<polygon points="670,1126 712,1119 774,1121 724,1128" fill="#b4b4b4"/>
<rect x="670" y="1126" width="54" height="160" fill="#9c9c9c"/>
<polygon points="724,1128 774,1121 774,1278 724,1286" fill="#858585"/>
<rect x="675" y="1131" width="44" height="11" fill="#4e4e4e"/>
<rect x="675" y="1145" width="44" height="11" fill="#4e4e4e"/>
<rect x="675" y="1161" width="44" height="5" fill="#5e5e5e"/>
<rect x="675" y="1170" width="44" height="5" fill="#5e5e5e"/>
<g stroke="#7a7a7a" stroke-width="2">
<line x1="679" y1="1182" x2="679" y2="1226"/><line x1="685" y1="1182" x2="685" y2="1226"/><line x1="691" y1="1182" x2="691" y2="1226"/>
<line x1="697" y1="1182" x2="697" y2="1226"/><line x1="703" y1="1182" x2="703" y2="1226"/><line x1="709" y1="1182" x2="709" y2="1226"/><line x1="715" y1="1182" x2="715" y2="1226"/>
</g>
<circle cx="692" cy="1254" r="5" fill="#c8c8c8" stroke="#666" stroke-width="1.2"/>
<!-- monitor -->
<rect x="756" y="1158" width="155" height="80" rx="2" fill="#151515"/>
<rect x="762" y="1163" width="143" height="70" fill="url(#screen)"/>
<line x1="786" y1="1222" x2="878" y2="1180" stroke="#3a5aa0" stroke-width="15"/>
<line x1="786" y1="1215" x2="876" y2="1174" stroke="#8aa4d4" stroke-width="3"/>
<rect x="818" y="1238" width="19" height="36" fill="#222"/>
<rect x="802" y="1273" width="55" height="11" rx="3" fill="#222"/>

<!-- output arrows -->
<g stroke="#555" stroke-width="1.3" fill="none">
<path d="M826,1292 Q800,1305 778,1332"/><path d="M840,1292 Q860,1305 874,1332"/>
</g>
<polygon points="773,1329 782,1330 775,1338" fill="#555"/>
<polygon points="869,1330 878,1329 877,1338" fill="#555"/>

<!-- catalytic site hairpin -->
<g fill="none" stroke-linecap="round">
<path d="M704,1315 C725,1330 735,1350 758,1392" stroke="#8ccbe0" stroke-width="5"/>
<path d="M716,1310 C742,1328 750,1355 770,1388" stroke="#b6e0ee" stroke-width="4"/>
<path d="M760,1384 C782,1382 786,1352 772,1342" stroke="#999" stroke-width="1"/>
<path d="M742,1320 L752,1316" stroke="#c88" stroke-width="1"/>
</g>
<g font-size="7.5" fill="#555" text-anchor="middle">
<text x="690" y="1390">Catalytic site</text><text x="690" y="1401">determination</text>
</g>
<!-- redesigned -->
<line x1="850" y1="1382" x2="962" y2="1306" stroke="#3a5aa0" stroke-width="22"/>
<line x1="852" y1="1372" x2="958" y2="1300" stroke="#9ab0dc" stroke-width="4"/>
<line x1="856" y1="1392" x2="964" y2="1318" stroke="#d8c0dc" stroke-width="2"/>
<g font-size="7.5" fill="#444" text-anchor="middle">
<text x="928" y="1387">Redesigned</text><text x="928" y="1398">candidates</text><text x="928" y="1410">proposal</text>
</g>

<!-- ===== right validation box ===== -->
<rect x="1036" y="1019" width="234" height="376" fill="#fff" stroke="#a8a8a8" stroke-width="1.5"/>
<g font-size="6.5" font-weight="bold" fill="#333" text-anchor="middle">
<text x="1094" y="1029" textLength="104" lengthAdjust="spacingAndGlyphs">Unconventional catalytic</text>
<text x="1094" y="1041" textLength="50" lengthAdjust="spacingAndGlyphs">nanomaterial</text>
</g>
<g fill="url(#dots)" stroke="#b0b0b0" stroke-width="0.8">
<ellipse cx="1160" cy="1088" rx="72" ry="38"/>
<ellipse cx="1110" cy="1150" rx="52" ry="30"/>
<ellipse cx="1180" cy="1160" rx="55" ry="30"/>
<ellipse cx="1205" cy="1095" rx="35" ry="30"/>
</g>
<rect x="1067" y="1100" width="170" height="14" fill="#7f98d4"/>
<rect x="1067" y="1112" width="170" height="26" fill="url(#fibV)"/>
<rect x="1067" y="1138" width="170" height="14" fill="#8aa0cc" opacity="0.9"/>
<line x1="1148" y1="1102" x2="1152" y2="1150" stroke="#d06a7a" stroke-width="1.5"/>
<polygon points="1153,1183 1173,1183 1178,1194 1173,1205 1153,1205 1148,1194" fill="#111"/>
<g fill="#333">
<circle cx="1212" cy="1216" r="3"/><circle cx="1222" cy="1236" r="3"/><circle cx="1202" cy="1247" r="3"/>
<circle cx="1179" cy="1242" r="3"/><circle cx="1162" cy="1248" r="3"/><circle cx="1192" cy="1263" r="3"/>
<circle cx="1227" cy="1258" r="3"/><circle cx="1254" cy="1275" r="3" fill="#a04050"/>
<circle cx="1049" cy="1321" r="3"/><circle cx="1065" cy="1355" r="3"/><circle cx="1082" cy="1360" r="3"/>
<circle cx="1094" cy="1339" r="3"/><circle cx="1105" cy="1355" r="3"/><circle cx="1124" cy="1367" r="3"/>
<circle cx="1129" cy="1344" r="3"/><circle cx="1115" cy="1388" r="3"/><circle cx="1159" cy="1326" r="3"/>
</g>
<g stroke="#4aa0b8" stroke-width="1" fill="none">
<path d="M1178,1226 l6,2 l5,-3 l5,3"/><path d="M1140,1258 l6,2 l5,-3 l5,3"/><path d="M1236,1249 l6,2 l5,3"/>
<path d="M1050,1342 l6,-2 l5,3 l5,-3"/><path d="M1080,1378 l6,-2 l5,3 l5,-3"/><path d="M1140,1354 l6,-2 l5,-3"/>
</g>
<rect x="1067" y="1274" width="170" height="14" fill="#7f98d4"/>
<rect x="1067" y="1286" width="170" height="26" fill="url(#fibV)"/>
<rect x="1067" y="1312" width="170" height="16" fill="#8aa0cc" opacity="0.9"/>
<line x1="1150" y1="1276" x2="1154" y2="1326" stroke="#d06a7a" stroke-width="1.5"/>
</svg>
</body></html>
